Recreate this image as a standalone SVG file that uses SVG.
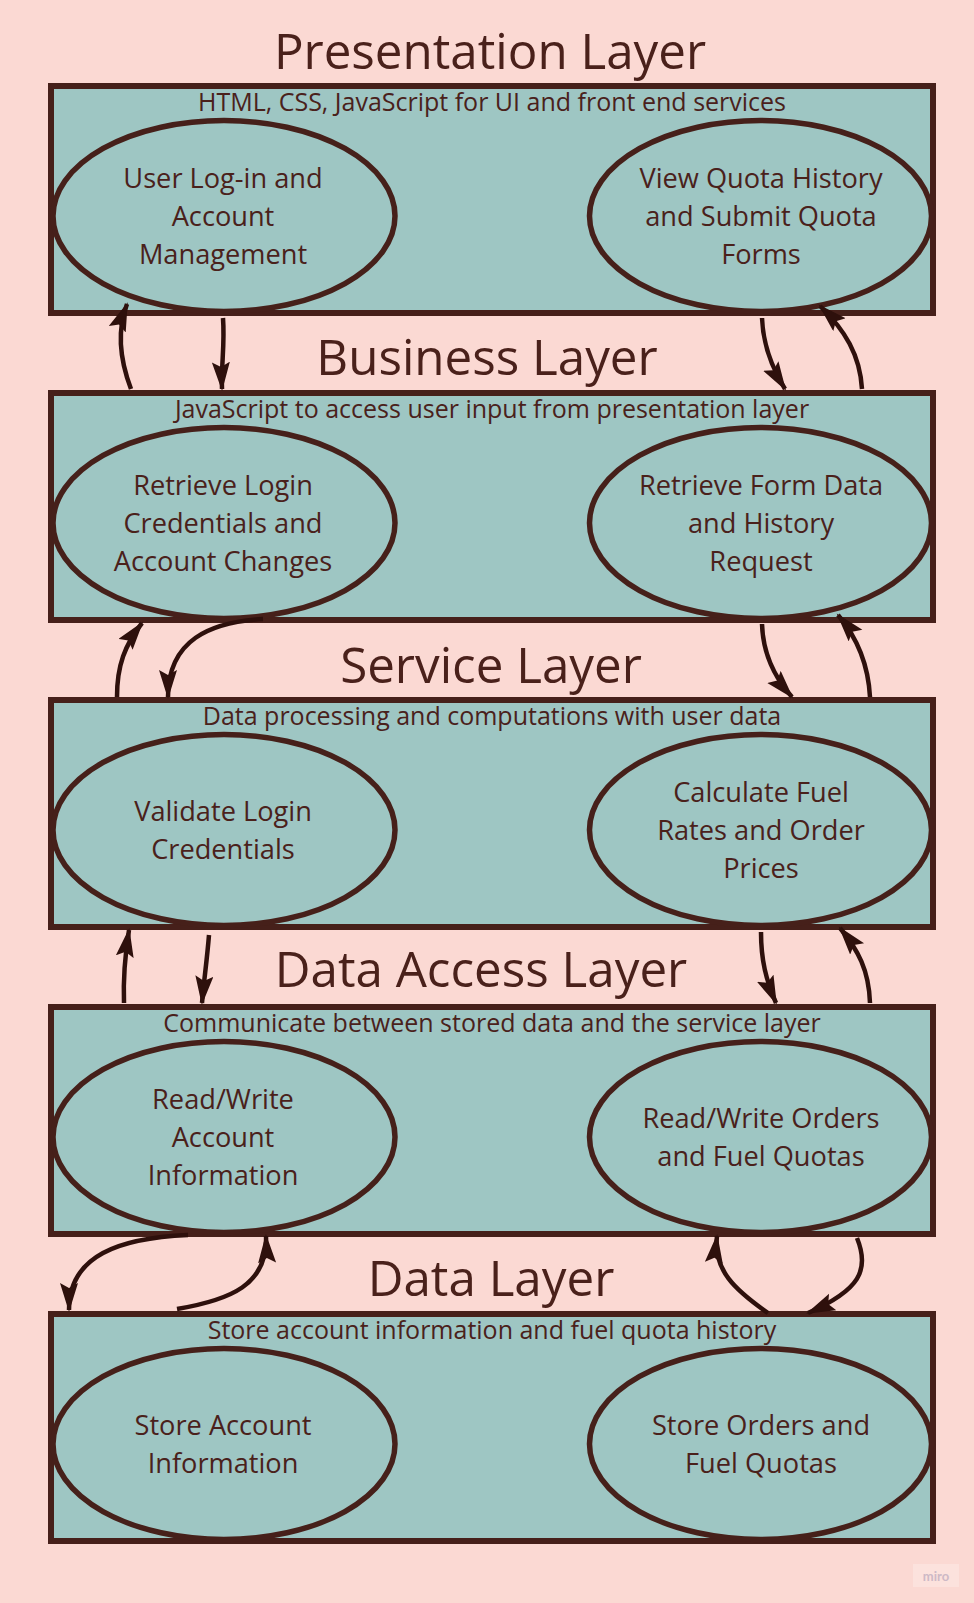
<svg xmlns="http://www.w3.org/2000/svg" width="974" height="1603" viewBox="0 0 974 1603">
<style>
.bg{fill:#FBD9D3}
.box{fill:#9EC6C3;stroke:#46201A;stroke-width:6}
.ell{fill:#9EC6C3;stroke:#46201A;stroke-width:5.5}
.title{font-family:"Open Sans","Noto Sans",sans-serif;font-size:49.3px;fill:#4A211B;text-anchor:middle}
.lbl{font-family:"Open Sans","Noto Sans",sans-serif;font-size:25px;fill:#4A211B;text-anchor:middle}
.et{font-family:"Open Sans","Noto Sans",sans-serif;font-size:27.2px;fill:#4A211B;text-anchor:middle}
.arr{fill:none;stroke:#2E100C;stroke-width:4.5}
</style>
<defs>
<marker id="ah" markerUnits="userSpaceOnUse" markerWidth="32" markerHeight="20" refX="27" refY="9" orient="auto">
<path d="M0,0 L29,9 L0,18 L5,9 Z" fill="#2E100C"/>
</marker>
</defs>
<rect class="bg" x="0" y="0" width="974" height="1603"/>

<text class="title" x="490" y="69">Presentation Layer</text>
<text class="title" x="487" y="375">Business Layer</text>
<text class="title" x="491" y="683">Service Layer</text>
<text class="title" x="481" y="987">Data Access Layer</text>
<text class="title" x="491" y="1296">Data Layer</text>

<g id="presentation-layer">
<rect class="box" x="51" y="86" width="882" height="227"/>
<text class="lbl" x="492" y="111">HTML, CSS, JavaScript for UI and front end services</text>
</g>
<g id="user-login">
<ellipse class="ell" cx="224" cy="216" rx="171" ry="95.5"/>
<text class="et" x="223" y="188">User Log-in and</text>
<text class="et" x="223" y="225.75">Account</text>
<text class="et" x="223" y="263.5">Management</text>
</g>
<g id="view-quota">
<ellipse class="ell" cx="760.5" cy="216" rx="171" ry="95.5"/>
<text class="et" x="761" y="188">View Quota History</text>
<text class="et" x="761" y="225.75">and Submit Quota</text>
<text class="et" x="761" y="263.5">Forms</text>
</g>

<g id="business-layer">
<rect class="box" x="51" y="393" width="882" height="227"/>
<text class="lbl" x="492" y="418">JavaScript to access user input from presentation layer</text>
</g>
<g id="retrieve-login">
<ellipse class="ell" cx="224" cy="523" rx="171" ry="95.5"/>
<text class="et" x="223" y="495">Retrieve Login</text>
<text class="et" x="223" y="532.75">Credentials and</text>
<text class="et" x="223" y="570.5">Account Changes</text>
</g>
<g id="retrieve-form">
<ellipse class="ell" cx="760.5" cy="523" rx="171" ry="95.5"/>
<text class="et" x="761" y="495">Retrieve Form Data</text>
<text class="et" x="761" y="532.75">and History</text>
<text class="et" x="761" y="570.5">Request</text>
</g>

<g id="service-layer">
<rect class="box" x="51" y="700" width="882" height="227"/>
<text class="lbl" x="492" y="725">Data processing and computations with user data</text>
</g>
<g id="validate-login">
<ellipse class="ell" cx="224" cy="830" rx="171" ry="95.5"/>
<text class="et" x="223" y="820.75">Validate Login</text>
<text class="et" x="223" y="858.5">Credentials</text>
</g>
<g id="calculate-fuel">
<ellipse class="ell" cx="760.5" cy="830" rx="171" ry="95.5"/>
<text class="et" x="761" y="802">Calculate Fuel</text>
<text class="et" x="761" y="839.75">Rates and Order</text>
<text class="et" x="761" y="877.5">Prices</text>
</g>

<g id="data-access-layer">
<rect class="box" x="51" y="1007" width="882" height="227"/>
<text class="lbl" x="492" y="1032">Communicate between stored data and the service layer</text>
</g>
<g id="rw-account">
<ellipse class="ell" cx="224" cy="1137" rx="171" ry="95.5"/>
<text class="et" x="223" y="1109">Read/Write</text>
<text class="et" x="223" y="1146.75">Account</text>
<text class="et" x="223" y="1184.5">Information</text>
</g>
<g id="rw-orders">
<ellipse class="ell" cx="760.5" cy="1137" rx="171" ry="95.5"/>
<text class="et" x="761" y="1127.75">Read/Write Orders</text>
<text class="et" x="761" y="1165.5">and Fuel Quotas</text>
</g>

<g id="data-layer">
<rect class="box" x="51" y="1314" width="882" height="227"/>
<text class="lbl" x="492" y="1339">Store account information and fuel quota history</text>
</g>
<g id="store-account">
<ellipse class="ell" cx="224" cy="1444" rx="171" ry="95.5"/>
<text class="et" x="223" y="1434.75">Store Account</text>
<text class="et" x="223" y="1472.5">Information</text>
</g>
<g id="store-orders">
<ellipse class="ell" cx="760.5" cy="1444" rx="171" ry="95.5"/>
<text class="et" x="761" y="1434.75">Store Orders and</text>
<text class="et" x="761" y="1472.5">Fuel Quotas</text>
</g>

<g id="connectors">
<path class="arr" marker-end="url(#ah)" d="M131,389 C120,360 117,330 127,304"/>
<path class="arr" marker-end="url(#ah)" d="M223,318 C225,345 221,365 222,389"/>
<path class="arr" marker-end="url(#ah)" d="M762,318 C763,345 772,368 785,389"/>
<path class="arr" marker-end="url(#ah)" d="M862,389 C860,355 845,330 820,306"/>

<path class="arr" marker-end="url(#ah)" d="M117,697 C117,665 125,645 142,623"/>
<path class="arr" marker-end="url(#ah)" d="M263,619 C210,622 168,640 168,697"/>
<path class="arr" marker-end="url(#ah)" d="M762,624 C763,655 775,678 792,697"/>
<path class="arr" marker-end="url(#ah)" d="M870,697 C868,660 855,635 838,615"/>

<path class="arr" marker-end="url(#ah)" d="M124,1003 C123,975 125,955 129,930"/>
<path class="arr" marker-end="url(#ah)" d="M209,935 C207,960 204,980 202,1003"/>
<path class="arr" marker-end="url(#ah)" d="M761,932 C761,960 766,980 776,1003"/>
<path class="arr" marker-end="url(#ah)" d="M870,1003 C869,970 858,950 840,928"/>

<path class="arr" marker-end="url(#ah)" d="M188,1235 C120,1238 69,1255 69,1310"/>
<path class="arr" marker-end="url(#ah)" d="M177,1309 C230,1300 268,1285 266,1236"/>
<path class="arr" marker-end="url(#ah)" d="M768,1313 C735,1290 713,1270 717,1236"/>
<path class="arr" marker-end="url(#ah)" d="M857,1238 C870,1270 860,1290 808,1313"/>
</g>

<g id="watermark">
<rect x="913" y="1564" width="46" height="23" fill="#FCE2DD"/>
<text x="936" y="1581" font-family="Lato,'Open Sans',sans-serif" font-size="13" font-weight="bold" fill="#CDB9C6" text-anchor="middle">miro</text>
</g>
</svg>
